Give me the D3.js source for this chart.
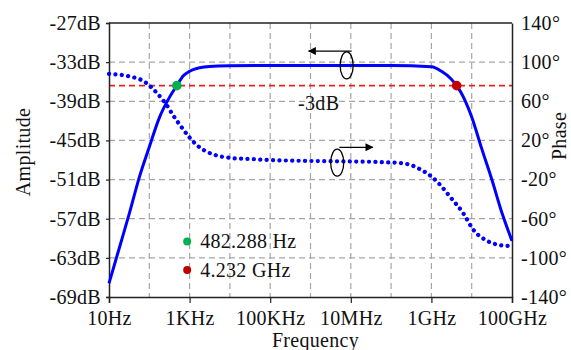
<!DOCTYPE html>
<html>
<head>
<meta charset="utf-8">
<script src="https://cdn.jsdelivr.net/npm/d3@7"></script>
<style>
  body { margin: 0; background: #fff; }
  text { font-family: "Liberation Serif", "Times New Roman", serif; font-size: 20px; letter-spacing: 0.3px; fill: #111; }
</style>
</head>
<body>
<script>
/* values */
var ampFreq = [1e1, 1.78e1, 3.16e1, 5.62e1, 1e2, 1.78e2, 3.16e2, 4.82e2, 7e2, 1e3, 1.78e3, 3.16e3, 1e4, 1e5, 1e6, 1e7, 1e8, 1e9, 1.78e9, 3e9, 4.232e9, 5.6e9, 1e10, 1.78e10, 3.16e10, 5.62e10, 1e11];
var ampDb   = [-66.9, -61.6, -56.3, -50.7, -46.0, -41.5, -38.4, -36.6, -35.1, -34.4, -33.85, -33.65, -33.55, -33.5, -33.5, -33.5, -33.5, -33.7, -34.4, -35.5, -36.6, -37.8, -41.4, -46.3, -51.0, -56.1, -60.4];

var phaseFreq = [1e1, 3.16e1, 7.8e1, 1.58e2, 2.45e2, 4e2, 5.75e2, 1e3, 1.35e3, 2.5e3, 4.27e3, 1.1e4, 3.16e4, 1e5, 1e6, 1e7, 1e8, 2.45e8, 5e8, 1.12e9, 1.78e9, 2.88e9, 6.17e9, 1.1e10, 2.34e10, 5e10, 7.4e10, 1e11];
var phaseDeg  = [88, 85.5, 79.7, 68, 58.6, 45, 35.8, 23, 17.1, 9, 5.2, 2, 1, 0, -1, -1.5, -2.5, -4, -9, -18.6, -27, -37.4, -54.4, -71.4, -82.3, -87, -87.8, -87];

var ampTicks = [-69, -63, -57, -51, -45, -39, -33, -27];
var phaseTicks = [-140, -100, -60, -20, 20, 60, 100, 140];
var freqTicks = [1e1, 1e3, 1e5, 1e7, 1e9, 1e11];
var freqLabels = ["10Hz", "1KHz", "100KHz", "10MHz", "1GHz", "100GHz"];
var gridFreq = [1e2, 1e3, 1e4, 1e5, 1e6, 1e7, 1e8, 1e9, 1e10];

var cutoffs = [
  {f: 482.288, db: -36.6, label: "482.288 Hz", color: "#00b050"},
  {f: 4.232e9, db: -36.6, label: "4.232 GHz", color: "#c00000"}
];
var refDb = -36.6;

var margin = {top: 23, right: 59, bottom: 53, left: 109},
    width = 571 - margin.left - margin.right,
    height = 350 - margin.top - margin.bottom;

var svg = d3.select("body").append("svg")
    .attr("width", 571)
    .attr("height", 350)
    .append("g")
    .attr("transform", "translate(" + margin.left + "," + margin.top + ")");

var x = d3.scaleLog().domain([1e1, 1e11]).range([0, width]),
    yA = d3.scaleLinear().domain([-69, -27]).range([height, 0]),
    yP = d3.scaleLinear().domain([-140, 140]).range([height, 0]);

/* grid */
svg.append("g").selectAll("line")
    .data(gridFreq)
    .enter().append("line")
    .attr("x1", function(d) { return x(d); })
    .attr("x2", function(d) { return x(d); })
    .attr("y1", 0).attr("y2", height)
    .attr("stroke", "#a6a6a6").attr("stroke-width", 1.2)
    .attr("stroke-dasharray", "6,4");

svg.append("g").selectAll("line")
    .data(ampTicks.slice(1, -1))
    .enter().append("line")
    .attr("x1", 0).attr("x2", width)
    .attr("y1", function(d) { return yA(d); })
    .attr("y2", function(d) { return yA(d); })
    .attr("stroke", "#a6a6a6").attr("stroke-width", 1.2)
    .attr("stroke-dasharray", "6,4");

/* -3dB line */
svg.append("line")
    .attr("x1", 0).attr("x2", width)
    .attr("y1", yA(refDb)).attr("y2", yA(refDb))
    .attr("stroke", "#e82020").attr("stroke-width", 1.8)
    .attr("stroke-dasharray", "6,4");

/* axes */
var xAxis = d3.axisBottom(x).tickValues(freqTicks).tickSize(6).tickPadding(8)
    .tickFormat(function(d, i) { return freqLabels[i]; });
var yAxisL = d3.axisLeft(yA).tickValues(ampTicks).tickSize(3).tickPadding(5)
    .tickFormat(function(d) { return d + "dB"; });
var yAxisR = d3.axisRight(yP).tickValues(phaseTicks).tickSize(0).tickPadding(9)
    .tickFormat(function(d) { return d + "\u00b0"; });

svg.append("g").attr("transform", "translate(0," + height + ")").call(xAxis);
svg.append("g").call(yAxisL);
svg.append("g").attr("transform", "translate(" + width + ",0)").call(yAxisR);

svg.selectAll(".domain").attr("stroke", "#222").attr("stroke-width", 1.5);
svg.selectAll(".tick line").attr("stroke", "#222").attr("stroke-width", 1.2);
svg.selectAll(".tick text").attr("font-family", null).attr("font-size", null).attr("fill", "#111");

/* frame top */
svg.append("line").attr("x1", 0).attr("x2", width).attr("y1", 0).attr("y2", 0)
    .attr("stroke", "#222").attr("stroke-width", 1.5);

/* axis titles */
svg.append("text")
    .attr("transform", "translate(-79," + (height / 2 - 8) + ") rotate(-90)")
    .attr("text-anchor", "middle")
    .text("Amplitude");
svg.append("text")
    .attr("transform", "translate(" + (width + 54) + "," + (height / 2 - 24) + ") rotate(-90)")
    .attr("text-anchor", "middle")
    .text("Phase");
svg.append("text")
    .attr("x", width / 2 + 5).attr("y", height + 50)
    .attr("text-anchor", "middle")
    .text("Frequency");

/* curves */
var ampLine = d3.line()
    .curve(d3.curveMonotoneX)
    .x(function(d, i) { return x(ampFreq[i]); })
    .y(function(d) { return yA(d); });

var phaseLine = d3.line()
    .curve(d3.curveMonotoneX)
    .x(function(d, i) { return x(phaseFreq[i]); })
    .y(function(d) { return yP(d); });

svg.append("path")
    .attr("d", phaseLine(phaseDeg))
    .attr("fill", "none")
    .attr("stroke", "#0000ff")
    .attr("stroke-width", 4.2)
    .attr("stroke-linecap", "round")
    .attr("stroke-dasharray", "0.1,6.3");

svg.append("path")
    .attr("d", ampLine(ampDb))
    .attr("fill", "none")
    .attr("stroke", "#0000ff")
    .attr("stroke-width", 3)
    .attr("stroke-linejoin", "round");

/* cutoff markers */
svg.selectAll(".cut")
    .data(cutoffs)
    .enter().append("circle")
    .attr("cx", function(d) { return x(d.f); })
    .attr("cy", function(d) { return yA(d.db); })
    .attr("r", 4.8)
    .attr("fill", function(d) { return d.color; });

/* legend */
var legend = svg.selectAll(".legend")
    .data(cutoffs)
    .enter().append("g")
    .attr("transform", function(d, i) { return "translate(" + x(8.7e2) + "," + yA(-60.5 - i * 4.35) + ")"; });
legend.append("circle").attr("r", 4).attr("fill", function(d) { return d.color; });
legend.append("text").attr("x", 13).attr("dy", "0.33em").text(function(d) { return d.label; });

/* annotations */
svg.append("text")
    .attr("x", x(1.6e6)).attr("y", yA(-40.3))
    .attr("text-anchor", "middle")
    .text("-3dB");

var defs = svg.append("defs");
defs.append("marker")
    .attr("id", "arrow")
    .attr("viewBox", "0 0 10 10")
    .attr("refX", 9).attr("refY", 5)
    .attr("markerWidth", 11).attr("markerHeight", 8)
    .attr("markerUnits", "userSpaceOnUse")
    .attr("orient", "auto")
    .append("path").attr("d", "M0,0L10,5L0,10z").attr("fill", "#000");

svg.append("ellipse")
    .attr("cx", x(7.9e6)).attr("cy", yA(-33.5))
    .attr("rx", 6.5).attr("ry", 13.5)
    .attr("fill", "none").attr("stroke", "#000").attr("stroke-width", 1.3);
svg.append("line")
    .attr("x1", x(1.05e7)).attr("x2", x(9e5))
    .attr("y1", yA(-31.3)).attr("y2", yA(-31.3))
    .attr("stroke", "#000").attr("stroke-width", 1.3)
    .attr("marker-end", "url(#arrow)");

svg.append("ellipse")
    .attr("cx", x(4.6e6)).attr("cy", yP(-2.7))
    .attr("rx", 6.5).attr("ry", 13.5)
    .attr("fill", "none").attr("stroke", "#000").attr("stroke-width", 1.3);
svg.append("line")
    .attr("x1", x(5.2e6)).attr("x2", x(3.5e7))
    .attr("y1", yP(13)).attr("y2", yP(13))
    .attr("stroke", "#000").attr("stroke-width", 1.3)
    .attr("marker-end", "url(#arrow)");
</script>
</body>
</html>
